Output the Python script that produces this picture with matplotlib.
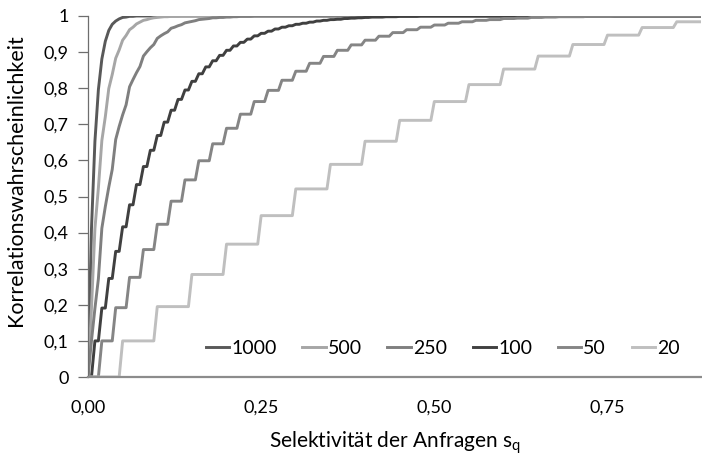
import numpy as np
import matplotlib.pyplot as plt

plt.rcParams['font.family'] = ['Lato', 'DejaVu Sans']
plt.rcParams['mathtext.fontset'] = 'custom'
plt.rcParams['mathtext.rm'] = 'Lato'

# Selektivität s_q, Kategorien in Schritten von 0,005
s = np.arange(178) * 0.005

# Treppenstufen (Wert nach k Stufen) für die kleinen Relationen
levels_20 = [0, 0.100, 0.195, 0.284, 0.368, 0.447, 0.521, 0.589, 0.653, 0.711,
             0.763, 0.810, 0.853, 0.889, 0.921, 0.947, 0.968, 0.984]
levels_50 = [0, 0.100, 0.192, 0.276, 0.353, 0.423, 0.487, 0.546, 0.599, 0.646,
             0.689, 0.728, 0.763, 0.794, 0.822, 0.847, 0.869, 0.888, 0.905, 0.920,
             0.933, 0.944, 0.954, 0.962, 0.969, 0.975, 0.980, 0.984, 0.988, 0.990,
             0.993, 0.994, 0.996, 0.997, 0.998, 0.998, 0.999, 0.999, 1.0]
levels_100 = [0, 0.100, 0.191, 0.273, 0.348, 0.416, 0.477, 0.533, 0.583, 0.628,
              0.669, 0.706, 0.739, 0.769, 0.795, 0.819, 0.840, 0.859, 0.876, 0.891,
              0.905, 0.917, 0.927, 0.936, 0.945, 0.952, 0.958, 0.964, 0.969, 0.973,
              0.977, 0.980, 0.983, 0.986, 0.988, 0.990, 0.991, 0.993, 0.994, 0.995,
              0.996, 0.997, 0.997, 0.998, 0.998, 0.999, 0.999, 0.999, 1.0]

# Werte je Kategorie für die großen Relationen (danach konstant)
p_250 = [0, 0.100, 0.190, 0.272, 0.412, 0.472, 0.526, 0.575, 0.658, 0.694,
         0.726, 0.754, 0.804, 0.824, 0.843, 0.860, 0.889, 0.901, 0.912, 0.921,
         0.938, 0.945, 0.951, 0.956, 0.966, 0.969, 0.973, 0.976, 0.981, 0.983,
         0.985, 0.987, 0.990, 0.991, 0.992, 0.993, 0.995, 0.995, 0.996, 0.996,
         0.997, 0.997, 0.998, 0.998, 0.999, 0.999, 0.999, 0.999, 1.0]
p_500 = [0, 0.190, 0.411, 0.524, 0.655, 0.721, 0.799, 0.838, 0.883, 0.906,
         0.933, 0.946, 0.962, 0.969, 0.978, 0.983, 0.988, 0.990, 0.993, 0.995,
         0.996, 0.997, 0.998, 0.998, 0.999, 0.999, 0.999, 1.0]
p_1000 = [0, 0.410, 0.653, 0.796, 0.881, 0.930, 0.960, 0.977, 0.986, 0.992,
          0.996, 0.997, 0.999, 0.999, 1.0]

labels = ['1000', '500', '250', '100', '50', '20']
colors = ['#595959', '#a6a6a6', '#7f7f7f', '#404040', '#858585', '#bfbfbf']


def stepped(levels, n):
    k = (np.arange(len(s)) * n) // 200
    k = np.minimum(k, len(levels) - 1)
    return np.asarray(levels)[k]


def padded(values):
    out = np.full(len(s), float(values[-1]))
    out[:len(values)] = values
    return out


series = [padded(p_1000), padded(p_500), padded(p_250),
          stepped(levels_100, 100), stepped(levels_50, 50), stepped(levels_20, 20)]

fig = plt.figure(figsize=(7.02, 4.63), dpi=100)
ax = fig.add_axes([88 / 702, 86 / 463, 613 / 702, 361 / 463])

for y, lab, c in zip(series, labels, colors):
    ax.plot(s, y, color=c, lw=2.1, label=lab, solid_joinstyle='round')

ax.set_xlim(0, s[-1])
ax.set_ylim(0, 1)
ax.set_yticks(np.arange(0, 1.01, 0.1))
ax.set_yticklabels(['0', '0,1', '0,2', '0,3', '0,4', '0,5', '0,6', '0,7', '0,8', '0,9', '1'])
ax.set_xticks([0, 0.25, 0.5, 0.75])
ax.set_xticklabels(['0,00', '0,25', '0,50', '0,75'])

for side in ['top', 'right']:
    ax.spines[side].set_visible(False)
ax.spines['left'].set_color('#6e6e6e')
ax.spines['left'].set_linewidth(0.9)
ax.spines['bottom'].set_color('#8c8c8c')
ax.spines['bottom'].set_linewidth(1.6)

ax.tick_params(axis='y', direction='out', length=7, width=0.9, color='#6e6e6e',
               pad=7, labelsize=13)
ax.tick_params(axis='x', length=0, pad=16, labelsize=13)

ax.set_xlabel(r'Selektivität der Anfragen s$_\mathregular{q}$', fontsize=15, labelpad=10)
ax.set_ylabel('Korrelationswahrscheinlichkeit', fontsize=15.5)
ax.yaxis.set_label_coords(-0.101, 0.546)

ax.legend(loc='center left', bbox_to_anchor=(0.192, 0.08), ncol=6, frameon=False,
          fontsize=14, handlelength=1.21, handletextpad=0.1, columnspacing=1.32,
          borderpad=0, borderaxespad=0)

fig.savefig('out.png', dpi=100)
